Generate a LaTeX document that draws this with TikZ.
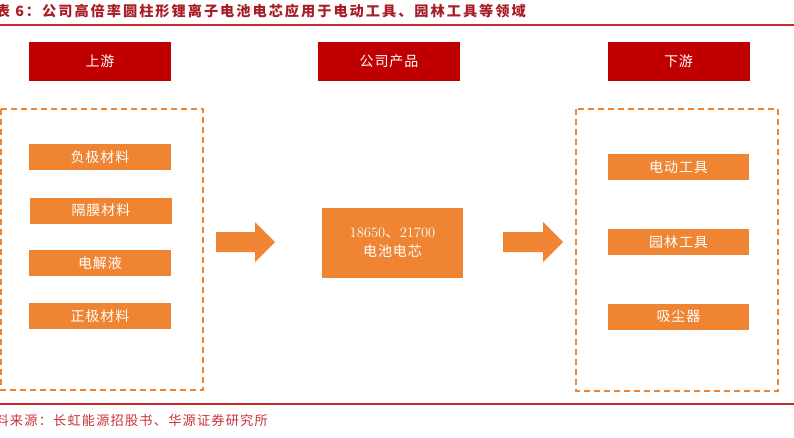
\documentclass[tikz,border=0pt]{standalone}
\usepackage{fontspec}
\usetikzlibrary{calc}
\newfontfamily\cjk[LetterSpace=7]{Noto Sans CJK SC}
\newfontfamily\cjktitle[LetterSpace=14]{Noto Sans CJK SC}
\newfontfamily\cjksrc[LetterSpace=9]{Noto Sans CJK SC}
\newfontfamily\cjkplain{Noto Sans CJK SC}
\definecolor{hdrred}{HTML}{C00000}
\definecolor{boxorange}{HTML}{EF8532}
\definecolor{titlered}{HTML}{A81E26}
\definecolor{linered}{HTML}{C8282E}
\definecolor{srcred}{HTML}{C8323A}
\tikzset{
  hdrbox/.style={rectangle, fill=hdrred, text=white, minimum width=142pt, minimum height=39pt, inner sep=0pt, font=\cjk\fontsize{14}{16}\selectfont},
  itembox/.style={rectangle, fill=boxorange, text=white, minimum width=142pt, minimum height=26pt, inner sep=0pt, font=\cjk\fontsize{14}{16}\selectfont},
  groupbox/.style={draw=boxorange, line width=1.5pt, dash pattern=on 6pt off 4pt},
  blockarrow/.style={fill=boxorange},
  rule/.style={draw=linered}
}
\begin{document}
\begin{tikzpicture}[x=1pt,y=-1pt]
\useasboundingbox (0,0) rectangle (794,437);
% title
\node[anchor=east, inner sep=0pt, text=titlered, font=\cjktitle\bfseries\fontsize{14.2}{16}\selectfont] (title) at (526,11) {表 6：公司高倍率圆柱形锂离子电池电芯应用于电动工具、园林工具等领域};
\draw[rule, line width=2pt] (0,25) -- (794,25);
% headers
\node[hdrbox] (up) at (100,61.5) {上游};
\node[hdrbox] (prod) at (389,61.5) {公司产品};
\node[hdrbox] (down) at (678.5,61.5) {下游};
% dashed group boxes
\draw[groupbox] (1,109) rectangle (203,390);
\draw[groupbox] (576,109) rectangle (778,391);
% upstream items
\node[itembox] (neg) at (100,157) {负极材料};
\node[itembox] (sep) at (101,210.5) {隔膜材料};
\node[itembox] (ele) at (100,263) {电解液};
\node[itembox] (pos) at (100,316) {正极材料};
% product
\node[itembox, minimum width=141pt, minimum height=70pt, align=center, font=\fontsize{14.5}{19}\selectfont] (cell) at (392.5,243)
  {18650{\cjkplain 、}21700\\{\cjk\fontsize{14}{19}\selectfont 电池电芯}};
% downstream items
\node[itembox, minimum width=141pt] (tool) at (678.5,167) {电动工具};
\node[itembox, minimum width=141pt] (garden) at (678.5,242) {园林工具};
\node[itembox, minimum width=141pt] (vac) at (678.5,316.5) {吸尘器};
% arrows
\coordinate (a1s) at (216,242);
\coordinate (a1e) at (275,242);
\coordinate (a2s) at (503,242);
\coordinate (a2e) at (563,242);
\fill[blockarrow] ($(a1s)+(0,-10)$) -- ($(a1e)+(-20,-10)$) -- ($(a1e)+(-20,-20)$) -- (a1e) -- ($(a1e)+(-20,20)$) -- ($(a1e)+(-20,10)$) -- ($(a1s)+(0,10)$) -- cycle;
\fill[blockarrow] ($(a2s)+(0,-10)$) -- ($(a2e)+(-20,-10)$) -- ($(a2e)+(-20,-20)$) -- (a2e) -- ($(a2e)+(-20,20)$) -- ($(a2e)+(-20,10)$) -- ($(a2s)+(0,10)$) -- cycle;
% bottom rule and source
\draw[rule, line width=1.5pt] (0,404) -- (794,404);
\node[anchor=east, inner sep=0pt, text=srcred, font=\cjksrc\fontsize{13.2}{15}\selectfont] (src) at (268,420) {资料来源：长虹能源招股书、华源证券研究所};
\end{tikzpicture}
\end{document}
